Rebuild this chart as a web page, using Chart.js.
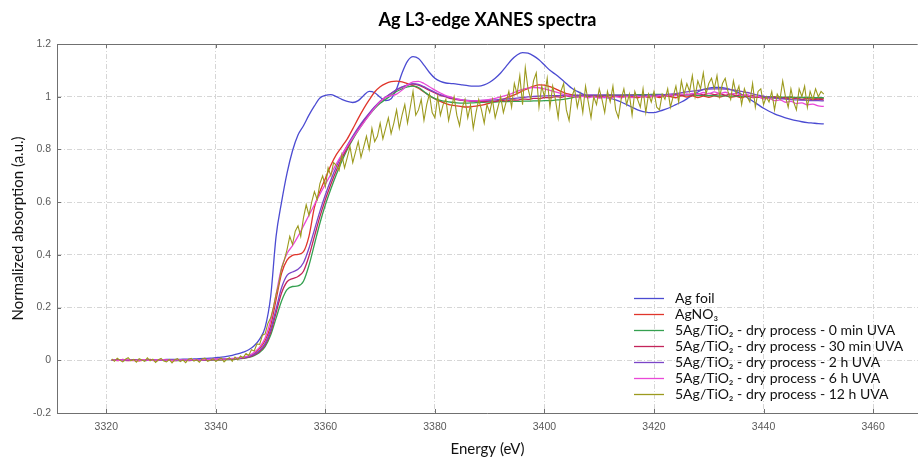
<!DOCTYPE html>
<html><head><meta charset="utf-8">
<script src="https://cdn.jsdelivr.net/npm/chart.js@4.4.1/dist/chart.umd.min.js"></script>
<style>html,body{margin:0;padding:0;background:#fff;}#wrap{width:919px;height:458px;}</style>
</head><body><div id="wrap"><canvas id="c" width="919" height="458"></canvas></div>
<script>
const chartTitle = "Ag L3-edge XANES spectra";
const xTitle = "Energy (eV)";
const yTitle = "Normalized absorption (a.u.)";
const seriesLabels = [
  "Ag foil",
  "AgNO\u2083",
  "5Ag/TiO\u2082 - dry process - 0 min UVA",
  "5Ag/TiO\u2082 - dry process - 30 min UVA",
  "5Ag/TiO\u2082 - dry process - 2 h UVA",
  "5Ag/TiO\u2082 - dry process - 6 h UVA",
  "5Ag/TiO\u2082 - dry process - 12 h UVA"
];
const seriesColors = ["#4b4bd2","#e0352b","#35a050","#c4245a","#7b45c8","#ea48d8","#9c9a1e"];

const energy = [
3321,3322,3323,3324,3325,3326,3327,3328,3329,3330,
3331,3332,3333,3334,3335,3336,3337,3338,3339,3340,
3341,3342,3343,3344,3345,3346,3347,3348,3349,3350,
3351,3352,3353,3354,3355,3356,3357,3358,3359,3360,
3361,3362,3363,3364,3365,3366,3367,3368,3369,3370,
3371,3372,3373,3374,3375,3376,3377,3378,3379,3380,
3381,3382,3383,3384,3385,3386,3387,3388,3389,3390,
3391,3392,3393,3394,3395,3396,3397,3398,3399,3400,
3401,3402,3403,3404,3405,3406,3407,3408,3409,3410,
3411,3412,3413,3414,3415,3416,3417,3418,3419,3420,
3421,3422,3423,3424,3425,3426,3427,3428,3429,3430,
3431,3432,3433,3434,3435,3436,3437,3438,3439,3440,
3441,3442,3443,3444,3445,3446,3447,3448,3449,3450,
3451];

const agFoil = [
0.000,0.000,0.001,0.001,0.001,0.001,0.002,0.002,0.002,0.002,
0.003,0.003,0.003,0.004,0.004,0.005,0.006,0.007,0.008,0.010,
0.012,0.015,0.019,0.024,0.031,0.040,0.055,0.080,0.125,0.240,
0.470,0.600,0.710,0.795,0.855,0.890,0.930,0.965,0.995,1.005,
1.008,1.000,0.990,0.982,0.978,0.985,1.005,1.020,1.015,0.998,
0.985,0.992,1.030,1.090,1.135,1.152,1.145,1.120,1.092,1.070,
1.058,1.052,1.050,1.048,1.045,1.042,1.040,1.040,1.045,1.055,
1.070,1.090,1.115,1.140,1.158,1.167,1.165,1.155,1.140,1.120,
1.100,1.085,1.068,1.050,1.032,1.020,1.010,1.004,1.000,0.999,
0.997,0.994,0.988,0.980,0.970,0.960,0.950,0.943,0.940,0.940,
0.945,0.952,0.960,0.970,0.980,0.992,1.005,1.018,1.028,1.033,
1.035,1.035,1.033,1.027,1.019,1.009,0.997,0.984,0.970,0.956,
0.945,0.935,0.927,0.920,0.914,0.909,0.905,0.902,0.900,0.898,
0.897];

const agNO3 = [
0.002,-0.001,0.003,0.000,0.002,-0.002,0.001,0.003,-0.001,0.000,
0.001,-0.002,0.000,0.002,-0.001,0.001,0.002,0.000,0.002,0.003,
0.003,0.004,0.005,0.006,0.009,0.015,0.026,0.045,0.075,0.130,
0.230,0.330,0.380,0.398,0.402,0.412,0.470,0.580,0.640,0.690,
0.740,0.780,0.810,0.840,0.878,0.918,0.955,0.988,1.018,1.038,
1.050,1.057,1.059,1.056,1.050,1.042,1.032,1.018,1.004,0.992,
0.982,0.974,0.968,0.965,0.962,0.961,0.963,0.966,0.970,0.976,
0.982,0.988,0.995,1.003,1.012,1.022,1.032,1.040,1.045,1.044,
1.038,1.030,1.020,1.012,1.008,1.004,1.006,1.000,1.004,0.998,
1.002,0.997,1.003,0.999,1.005,1.001,0.996,1.003,0.998,1.002,
0.997,1.003,1.000,0.996,1.004,0.999,1.003,0.997,1.002,0.998,
1.003,0.999,1.004,0.998,1.001,0.996,1.002,0.997,0.999,0.995,
1.000,0.996,0.998,0.994,0.999,0.995,0.997,0.993,0.996,0.992,
0.994];

const uva0min = [
0.001,0.002,-0.001,0.001,0.000,0.002,-0.001,0.001,0.000,0.001,
0.000,0.001,-0.001,0.001,0.002,0.000,0.001,0.002,0.001,0.002,
0.002,0.003,0.004,0.005,0.007,0.011,0.018,0.030,0.052,0.095,
0.160,0.225,0.268,0.280,0.282,0.300,0.360,0.440,0.520,0.590,
0.650,0.705,0.755,0.800,0.838,0.872,0.903,0.930,0.955,0.975,
0.990,1.005,1.020,1.030,1.037,1.040,1.035,1.020,1.004,0.993,
0.986,0.982,0.979,0.977,0.976,0.976,0.977,0.978,0.979,0.980,
0.980,0.981,0.981,0.982,0.982,0.983,0.983,0.984,0.984,0.985,
0.985,0.987,0.989,0.992,0.996,1.000,1.002,1.003,1.004,1.004,
1.005,1.005,1.006,1.006,1.007,1.007,1.008,1.008,1.008,1.009,
1.009,1.008,1.008,1.007,1.007,1.006,1.006,1.005,1.005,1.004,
1.004,1.003,1.003,1.002,1.002,1.001,1.001,1.000,1.000,0.999,
0.999,0.999,0.998,0.998,0.998,0.997,0.997,0.997,0.996,0.996,
0.996];

const uva30min = [
0.000,0.002,0.001,-0.001,0.001,0.000,0.002,0.001,-0.001,0.001,
0.001,0.000,0.002,0.001,0.000,0.002,0.001,0.002,0.002,0.003,
0.003,0.004,0.005,0.006,0.008,0.012,0.020,0.034,0.058,0.105,
0.180,0.255,0.298,0.310,0.318,0.338,0.395,0.470,0.545,0.610,
0.668,0.720,0.766,0.806,0.843,0.877,0.908,0.935,0.960,0.982,
0.998,1.012,1.026,1.036,1.044,1.048,1.044,1.035,1.024,1.014,
1.005,0.999,0.993,0.989,0.986,0.984,0.982,0.983,0.981,0.984,
0.982,0.986,0.984,0.988,0.987,0.991,0.990,0.994,0.993,0.997,
0.996,1.000,0.998,1.003,1.000,1.005,1.001,1.006,1.002,1.005,
1.001,1.006,1.002,1.005,1.000,1.006,1.002,1.004,0.999,1.005,
1.001,1.006,1.003,1.008,1.004,1.010,1.006,1.012,1.007,1.013,
1.008,1.012,1.006,1.010,1.004,1.007,1.001,1.004,0.998,1.001,
0.995,0.999,0.993,0.997,0.991,0.995,0.989,0.993,0.988,0.991,
0.987];

const uva2h = [
0.001,0.000,0.001,0.002,0.000,0.001,0.001,0.000,0.002,0.001,
0.000,0.001,0.001,0.002,0.001,0.001,0.002,0.002,0.003,0.003,
0.004,0.005,0.006,0.007,0.010,0.014,0.023,0.038,0.064,0.115,
0.195,0.275,0.322,0.335,0.345,0.370,0.425,0.495,0.565,0.628,
0.684,0.734,0.778,0.816,0.851,0.883,0.912,0.938,0.962,0.983,
0.999,1.013,1.027,1.037,1.045,1.050,1.047,1.038,1.027,1.017,
1.008,1.001,0.996,0.991,0.988,0.986,0.985,0.985,0.986,0.987,
0.988,0.990,0.991,0.993,0.995,0.997,0.999,1.001,1.002,1.003,
1.004,1.004,1.005,1.005,1.005,1.006,1.006,1.006,1.007,1.007,
1.007,1.007,1.006,1.006,1.006,1.005,1.005,1.005,1.006,1.006,
1.007,1.008,1.010,1.012,1.015,1.018,1.021,1.024,1.027,1.029,
1.030,1.030,1.029,1.027,1.024,1.020,1.016,1.011,1.006,1.002,
0.998,0.995,0.993,0.991,0.989,0.988,0.987,0.986,0.985,0.985,
0.984];

const uva6h = [
0.002,0.000,0.001,0.003,-0.001,0.001,0.002,0.000,0.001,0.002,
0.001,0.000,0.002,0.001,0.002,0.002,0.001,0.003,0.003,0.004,
0.004,0.005,0.007,0.009,0.012,0.018,0.030,0.050,0.085,0.150,
0.250,0.350,0.405,0.435,0.470,0.510,0.550,0.590,0.630,0.668,
0.706,0.745,0.780,0.812,0.843,0.873,0.902,0.930,0.958,0.982,
0.998,1.004,1.010,1.025,1.045,1.056,1.058,1.050,1.038,1.025,
1.014,1.004,0.998,0.992,0.988,0.985,0.984,0.985,0.987,0.990,
0.994,0.999,1.005,1.012,1.020,1.028,1.033,1.035,1.034,1.030,
1.024,1.018,1.012,1.006,1.002,0.998,1.001,0.996,1.000,0.995,
0.999,0.994,1.000,0.996,1.001,0.997,1.002,0.998,1.003,1.000,
1.004,1.001,1.007,1.004,1.010,1.007,1.013,1.010,1.016,1.012,
1.018,1.013,1.017,1.010,1.013,1.005,1.008,0.999,1.001,0.992,
0.994,0.985,0.988,0.979,0.982,0.974,0.977,0.969,0.972,0.965,
0.963];

const energyFine = [
3321,3321.5,3322,3322.5,3323,3323.5,3324,3324.5,3325,3325.5,3326,3326.5,3327,3327.5,3328,3328.5,3329,3329.5,3330,3330.5,
3331,3331.5,3332,3332.5,3333,3333.5,3334,3334.5,3335,3335.5,3336,3336.5,3337,3337.5,3338,3338.5,3339,3339.5,3340,3340.5,
3341,3341.5,3342,3342.5,3343,3343.5,3344,3344.5,3345,3345.5,3346,3346.5,3347,3347.5,3348,3348.5,3349,3349.5,3350,3350.5,
3351,3351.5,3352,3352.5,3353,3353.5,3354,3354.5,3355,3355.5,3356,3356.5,3357,3357.5,3358,3358.5,3359,3359.5,3360,3360.5,
3361,3361.5,3362,3362.5,3363,3363.5,3364,3364.5,3365,3365.5,3366,3366.5,3367,3367.5,3368,3368.5,3369,3369.5,3370,3370.5,
3371,3371.5,3372,3372.5,3373,3373.5,3374,3374.5,3375,3375.5,3376,3376.5,3377,3377.5,3378,3378.5,3379,3379.5,3380,3380.5,
3381,3381.5,3382,3382.5,3383,3383.5,3384,3384.5,3385,3385.5,3386,3386.5,3387,3387.5,3388,3388.5,3389,3389.5,3390,3390.5,
3391,3391.5,3392,3392.5,3393,3393.5,3394,3394.5,3395,3395.5,3396,3396.5,3397,3397.5,3398,3398.5,3399,3399.5,3400,3400.5,
3401,3401.5,3402,3402.5,3403,3403.5,3404,3404.5,3405,3405.5,3406,3406.5,3407,3407.5,3408,3408.5,3409,3409.5,3410,3410.5,
3411,3411.5,3412,3412.5,3413,3413.5,3414,3414.5,3415,3415.5,3416,3416.5,3417,3417.5,3418,3418.5,3419,3419.5,3420,3420.5,
3421,3421.5,3422,3422.5,3423,3423.5,3424,3424.5,3425,3425.5,3426,3426.5,3427,3427.5,3428,3428.5,3429,3429.5,3430,3430.5,
3431,3431.5,3432,3432.5,3433,3433.5,3434,3434.5,3435,3435.5,3436,3436.5,3437,3437.5,3438,3438.5,3439,3439.5,3440,3440.5,
3441,3441.5,3442,3442.5,3443,3443.5,3444,3444.5,3445,3445.5,3446,3446.5,3447,3447.5,3448,3448.5,3449,3449.5,3450,3450.5,
3451];

const uva12h = [
0.005,-0.004,0.008,0.000,-0.006,0.004,0.010,-0.002,0.003,-0.007,0.006,0.001,-0.004,0.009,-0.002,0.004,-0.008,0.002,0.007,-0.003,
-0.006,0.003,-0.010,0.002,0.006,-0.005,0.001,-0.009,0.004,0.007,-0.003,0.002,-0.007,0.005,0.008,-0.004,0.000,0.006,-0.005,0.003,
0.009,-0.006,0.004,0.010,-0.004,0.012,0.002,0.016,0.010,0.026,0.018,0.040,0.035,0.062,0.060,0.095,0.100,0.140,0.160,0.200,
0.250,0.290,0.350,0.380,0.420,0.470,0.440,0.490,0.510,0.470,0.540,0.590,0.550,0.600,0.640,0.610,0.670,0.700,0.660,0.730,
0.700,0.750,0.740,0.720,0.780,0.730,0.770,0.810,0.750,0.790,0.830,0.770,0.810,0.850,0.800,0.880,0.830,0.850,0.900,0.840,
0.880,0.920,0.860,0.900,0.950,0.880,0.930,0.970,0.900,0.960,1.020,0.930,0.950,0.990,0.910,0.970,1.010,0.940,0.920,1.000,
0.930,0.970,0.990,0.910,0.960,1.000,0.930,0.890,0.960,0.990,0.920,0.970,0.880,0.940,0.990,0.950,0.900,0.970,0.940,0.990,
0.920,0.960,1.000,0.940,0.980,1.020,0.960,1.050,1.010,1.080,0.970,1.110,1.030,0.990,1.060,1.090,0.960,1.040,1.000,1.070,
0.960,1.040,0.990,0.920,1.020,1.050,0.950,0.910,1.000,1.030,0.960,1.010,0.940,1.040,0.980,0.920,1.000,0.970,1.030,0.990,
0.940,1.020,0.980,1.040,0.950,0.920,0.990,1.030,0.970,1.010,0.930,1.020,0.990,0.960,1.030,0.940,1.010,0.980,1.020,0.960,
0.950,1.010,0.990,1.030,0.960,1.000,1.040,0.980,1.060,1.010,1.050,1.020,1.080,1.000,1.060,1.030,1.090,1.010,1.050,1.070,
1.030,1.080,1.000,1.050,1.070,1.020,0.990,1.060,1.010,1.040,0.970,1.030,1.000,0.980,1.050,0.960,1.020,1.030,0.970,1.000,
0.980,1.020,0.950,1.010,0.990,1.060,1.000,0.960,1.030,0.980,0.950,1.030,1.000,1.040,0.960,1.020,0.990,1.030,1.000,1.020,
1.010];

const xTicksStep = 20, xMin = 3311, xMax = 3468.2;
const yTicksStep = 0.2, yMin = -0.2, yMax = 1.2;

const FONT = "Lato, 'Open Sans', 'DejaVu Sans', sans-serif";
const TICKFONT = "'Liberation Sans', Arial, sans-serif";

function pts(xs, ys){ const n = Math.min(xs.length, ys.length); const out=[]; for(let i=0;i<n;i++) out.push({x:xs[i], y:ys[i]}); return out; }

const seriesData = [
  pts(energy, agFoil), pts(energy, agNO3), pts(energy, uva0min), pts(energy, uva30min),
  pts(energy, uva2h), pts(energy, uva6h), pts(energyFine, uva12h)
];

const datasets = seriesData.map((d, i) => ({
  label: seriesLabels[i],
  data: d,
  borderColor: seriesColors[i],
  backgroundColor: seriesColors[i],
  borderWidth: i === 6 ? 1.1 : 1.3,
  pointRadius: 0,
  fill: false,
  order: seriesData.length - i,
  cubicInterpolationMode: i === 6 ? 'default' : 'monotone',
  tension: 0
}));

const framePlugin = {
  id: 'frame',
  afterDraw(chart){
    const {ctx, chartArea:a, scales} = chart;
    ctx.save();
    ctx.strokeStyle = '#707070';
    ctx.lineWidth = 1;
    ctx.beginPath();
    ctx.moveTo(a.left + 0.5, a.top + 0.5);
    ctx.lineTo(a.right - 0.5, a.top + 0.5);
    ctx.moveTo(a.left + 0.5, a.top);
    ctx.lineTo(a.left + 0.5, a.bottom);
    ctx.moveTo(a.left, a.bottom + 0.5);
    ctx.lineTo(a.right, a.bottom + 0.5);
    ctx.stroke();
    ctx.beginPath();
    scales.x.ticks.forEach(t => {
      const px = Math.round(scales.x.getPixelForValue(t.value)) + 0.5;
      ctx.moveTo(px, a.bottom); ctx.lineTo(px, a.bottom - 4);
      ctx.moveTo(px, a.top); ctx.lineTo(px, a.top + 4);
    });
    scales.y.ticks.forEach(t => {
      const py = Math.round(scales.y.getPixelForValue(t.value)) + 0.5;
      ctx.moveTo(a.left, py); ctx.lineTo(a.left + 4, py);
    });
    ctx.stroke();
    ctx.restore();
  }
};

const legendPlugin = {
  id: 'insideLegend',
  afterDraw(chart){
    const {ctx, chartArea:a} = chart;
    ctx.save();
    ctx.font = "14px " + FONT;
    ctx.textBaseline = 'middle';
    ctx.textAlign = 'left';
    chart.data.datasets.forEach((ds, i) => {
      const yy = a.bottom - 115 + i * 16;
      ctx.strokeStyle = ds.borderColor;
      ctx.lineWidth = 1.3;
      ctx.beginPath();
      ctx.moveTo(a.right - 284, yy + 0.5);
      ctx.lineTo(a.right - 254, yy + 0.5);
      ctx.stroke();
      ctx.fillStyle = '#111';
      ctx.fillText(ds.label, a.right - 243, yy);
    });
    ctx.restore();
  }
};

new Chart(document.getElementById('c'), {
  type: 'line',
  data: { datasets },
  plugins: [framePlugin, legendPlugin],
  options: {
    responsive: false,
    animation: false,
    devicePixelRatio: 1,
    layout: { padding: { left: 0, right: 1, top: 0, bottom: 0 } },
    plugins: {
      legend: { display: false },
      tooltip: { enabled: false },
      title: {
        display: true, text: chartTitle, fullSize: false,
        color: '#000',
        font: { family: FONT, size: 18, weight: 'bold', lineHeight: 1.2 },
        padding: { top: 9, bottom: 13.4 }
      }
    },
    scales: {
      x: {
        type: 'linear', min: xMin, max: xMax,
        afterFit(s){ s.height = 45; },
        ticks: { stepSize: xTicksStep, includeBounds: false, color: '#5a5a5a', padding: 8,
                 font: { family: TICKFONT, size: 10.5 }, maxRotation: 0,
                 callback: v => String(Math.round(v)) },
        grid: { color: '#d6d6d6', lineWidth: 1, drawTicks: false },
        border: { display: false, dash: [5, 2, 1, 2] },
        title: { display: true, text: xTitle, color: '#111',
                 font: { family: FONT, size: 15, lineHeight: 1.2 }, padding: { top: 0, bottom: 0 } }
      },
      y: {
        type: 'linear', min: yMin, max: yMax,
        afterFit(s){ s.width = 57; },
        ticks: { stepSize: yTicksStep, includeBounds: false, color: '#5a5a5a', padding: 6,
                 font: { family: TICKFONT, size: 10.5 },
                 callback: v => { const r = Math.round(v * 10) / 10; return String(r === 0 ? 0 : r); } },
        grid: { color: '#d6d6d6', lineWidth: 1, drawTicks: false },
        border: { display: false, dash: [5, 2, 1, 2] },
        title: { display: true, text: yTitle, color: '#111',
                 font: { family: FONT, size: 15, lineHeight: 1.2 }, padding: { top: 9, bottom: 0 } }
      }
    }
  }
});
</script>
</body></html>
